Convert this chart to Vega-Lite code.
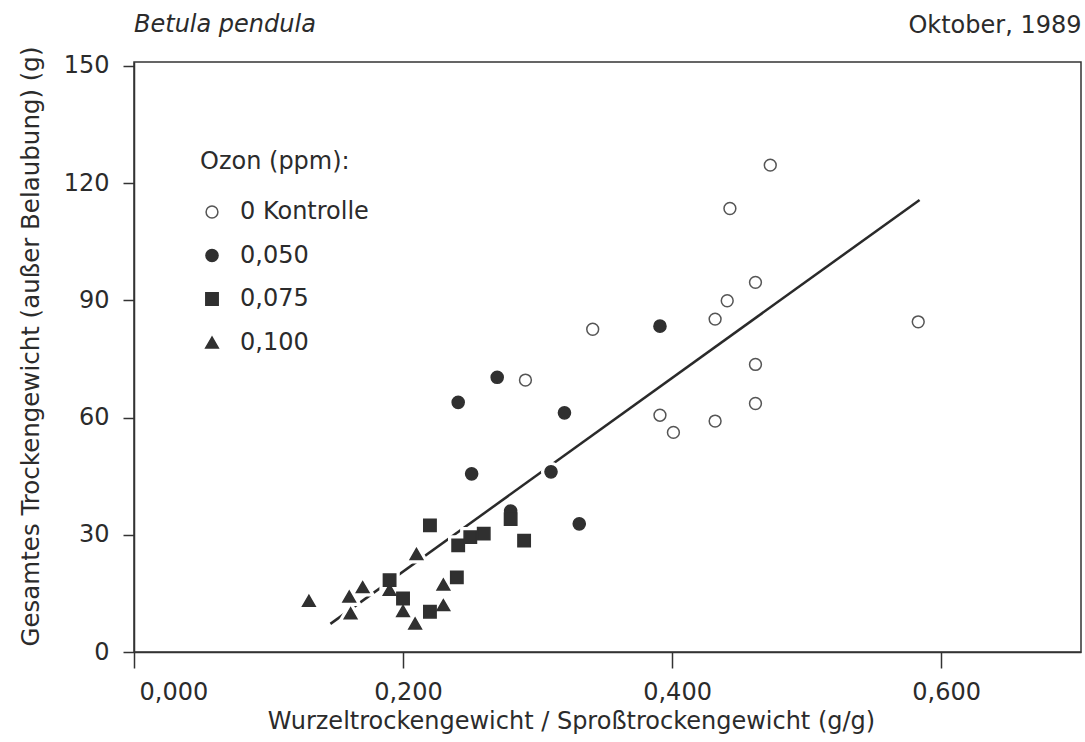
{
  "$schema": "https://vega.github.io/schema/vega-lite/v6.json",
  "width": 947,
  "height": 590,
  "autosize": {"type": "none"},
  "padding": {"left": 134, "top": 62, "right": 4, "bottom": 90},
  "background": "white",
  "config": {
    "font": "DejaVu Sans",
    "view": {"stroke": "#333333", "strokeWidth": 1.5},
    "axis": {
      "domainColor": "#333333", "domainWidth": 1.5,
      "tickColor": "#333333", "tickWidth": 1.5,
      "labelColor": "#2b2b2b", "titleColor": "#2b2b2b",
      "labelFont": "DejaVu Sans", "titleFont": "DejaVu Sans",
      "labelFontSize": 24, "titleFontSize": 24, "titleFontWeight": "normal",
      "grid": false
    },
    "legend": {
      "orient": "none", "legendX": 66, "legendY": 88, "padding": 0,
      "titleFont": "DejaVu Sans", "labelFont": "DejaVu Sans",
      "titleFontSize": 24, "labelFontSize": 24, "titleFontWeight": "normal",
      "titleColor": "#2b2b2b", "labelColor": "#2b2b2b",
      "titlePadding": 26, "rowPadding": 19.5, "labelOffset": 16,
      "symbolStrokeWidth": 1.5
    }
  },
  "title": {
    "text": "Betula pendula", "anchor": "start", "frame": "group", "fontStyle": "italic",
    "fontWeight": "normal", "fontSize": 24, "font": "DejaVu Sans",
    "color": "#2b2b2b", "offset": -24
  },
  "datasets": {
    "pts": [
      {"x": 0.473, "y": 124.6, "ozon": "0 Kontrolle"},
      {"x": 0.443, "y": 113.5, "ozon": "0 Kontrolle"},
      {"x": 0.462, "y": 94.6, "ozon": "0 Kontrolle"},
      {"x": 0.441, "y": 89.9, "ozon": "0 Kontrolle"},
      {"x": 0.432, "y": 85.2, "ozon": "0 Kontrolle"},
      {"x": 0.583, "y": 84.5, "ozon": "0 Kontrolle"},
      {"x": 0.462, "y": 73.6, "ozon": "0 Kontrolle"},
      {"x": 0.462, "y": 63.6, "ozon": "0 Kontrolle"},
      {"x": 0.391, "y": 60.6, "ozon": "0 Kontrolle"},
      {"x": 0.401, "y": 56.2, "ozon": "0 Kontrolle"},
      {"x": 0.432, "y": 59.1, "ozon": "0 Kontrolle"},
      {"x": 0.341, "y": 82.6, "ozon": "0 Kontrolle"},
      {"x": 0.291, "y": 69.6, "ozon": "0 Kontrolle"},
      {"x": 0.391, "y": 83.4, "ozon": "0,050"},
      {"x": 0.270, "y": 70.3, "ozon": "0,050"},
      {"x": 0.241, "y": 63.9, "ozon": "0,050"},
      {"x": 0.320, "y": 61.2, "ozon": "0,050"},
      {"x": 0.251, "y": 45.6, "ozon": "0,050"},
      {"x": 0.310, "y": 46.1, "ozon": "0,050"},
      {"x": 0.280, "y": 36.1, "ozon": "0,050"},
      {"x": 0.331, "y": 32.8, "ozon": "0,050"},
      {"x": 0.220, "y": 32.4, "ozon": "0,075"},
      {"x": 0.241, "y": 27.3, "ozon": "0,075"},
      {"x": 0.250, "y": 29.4, "ozon": "0,075"},
      {"x": 0.260, "y": 30.3, "ozon": "0,075"},
      {"x": 0.290, "y": 28.5, "ozon": "0,075"},
      {"x": 0.280, "y": 34.0, "ozon": "0,075"},
      {"x": 0.190, "y": 18.4, "ozon": "0,075"},
      {"x": 0.200, "y": 13.7, "ozon": "0,075"},
      {"x": 0.240, "y": 19.1, "ozon": "0,075"},
      {"x": 0.220, "y": 10.3, "ozon": "0,075"},
      {"x": 0.210, "y": 25.1, "ozon": "0,100"},
      {"x": 0.130, "y": 13.1, "ozon": "0,100"},
      {"x": 0.160, "y": 14.2, "ozon": "0,100"},
      {"x": 0.170, "y": 16.6, "ozon": "0,100"},
      {"x": 0.161, "y": 9.9, "ozon": "0,100"},
      {"x": 0.190, "y": 15.9, "ozon": "0,100"},
      {"x": 0.200, "y": 10.5, "ozon": "0,100"},
      {"x": 0.209, "y": 7.3, "ozon": "0,100"},
      {"x": 0.230, "y": 17.3, "ozon": "0,100"},
      {"x": 0.230, "y": 12.0, "ozon": "0,100"}
    ],
    "fit": [
      {"x": 0.146, "y": 7.2},
      {"x": 0.584, "y": 115.7}
    ]
  },
  "layer": [
    {
      "data": {"name": "fit"},
      "mark": {"type": "line", "color": "#2a2a2a", "strokeWidth": 2.5},
      "encoding": {
        "x": {
          "field": "x", "type": "quantitative",
          "scale": {"domain": [0, 0.704], "nice": false, "zero": false},
          "axis": {
            "orient": "top", "title": "Oktober, 1989", "titleAnchor": "end",
            "labels": false, "ticks": false, "domain": false, "titlePadding": 25
          }
        },
        "y": {
          "field": "y", "type": "quantitative",
          "scale": {"domain": [0, 151], "nice": false}
        }
      }
    },
    {
      "data": {"name": "pts"},
      "mark": {"type": "point", "filled": true, "fill": "white", "stroke": "white", "strokeWidth": 8, "opacity": 1},
      "encoding": {
        "x": {"field": "x", "type": "quantitative", "scale": {"domain": [0, 0.704], "nice": false, "zero": false}, "axis": null},
        "y": {"field": "y", "type": "quantitative", "scale": {"domain": [0, 151], "nice": false}},
        "shape": {"field": "ozon", "type": "nominal", "legend": null,
          "scale": {"domain": ["0 Kontrolle", "0,050", "0,075", "0,100"], "range": ["circle", "circle", "square", "triangle-up"]}},
        "size": {"field": "ozon", "type": "nominal", "legend": null,
          "scale": {"domain": ["0 Kontrolle", "0,050", "0,075", "0,100"], "range": [140, 160, 110, 190]}}
      }
    },
    {
      "data": {"name": "pts"},
      "mark": {"type": "point", "strokeWidth": 1.5, "opacity": 1},
      "encoding": {
        "x": {
          "field": "x", "type": "quantitative",
          "scale": {"domain": [0, 0.704], "nice": false, "zero": false},
          "axis": {
            "orient": "bottom", "title": "Wurzeltrockengewicht / Sproßtrockengewicht (g/g)",
            "values": [0, 0.2, 0.4, 0.6],
            "labelExpr": "replace(format(datum.value, '.3f'), '.', ',')",
            "tickSize": 16, "labelPadding": 12, "labelOffset": 5,
            "titlePadding": 5, "titleX": 437
          }
        },
        "y": {
          "field": "y", "type": "quantitative",
          "scale": {"domain": [0, 151], "nice": false},
          "axis": {
            "title": "Gesamtes Trockengewicht (außer Belaubung)  (g)",
            "values": [0, 30, 60, 90, 120, 150],
            "tickSize": 11, "labelPadding": 14, "titlePadding": 20, "titleY": 284,
            "titleFontSize": 24.5
          }
        },
        "shape": {"field": "ozon", "type": "nominal", "title": "Ozon (ppm):",
          "scale": {"domain": ["0 Kontrolle", "0,050", "0,075", "0,100"], "range": ["circle", "circle", "square", "triangle-up"]}},
        "size": {"field": "ozon", "type": "nominal", "title": "Ozon (ppm):",
          "scale": {"domain": ["0 Kontrolle", "0,050", "0,075", "0,100"], "range": [140, 160, 110, 190]}},
        "fill": {"field": "ozon", "type": "nominal", "title": "Ozon (ppm):",
          "scale": {"domain": ["0 Kontrolle", "0,050", "0,075", "0,100"], "range": ["#ffffff", "#303030", "#303030", "#303030"]}},
        "stroke": {"field": "ozon", "type": "nominal", "title": "Ozon (ppm):",
          "scale": {"domain": ["0 Kontrolle", "0,050", "0,075", "0,100"], "range": ["#555555", "#303030", "#303030", "#303030"]}}
      }
    }
  ],
  "resolve": {
    "axis": {"x": "independent"},
    "legend": {"shape": "independent", "size": "independent", "fill": "independent", "stroke": "independent"}
  }
}
